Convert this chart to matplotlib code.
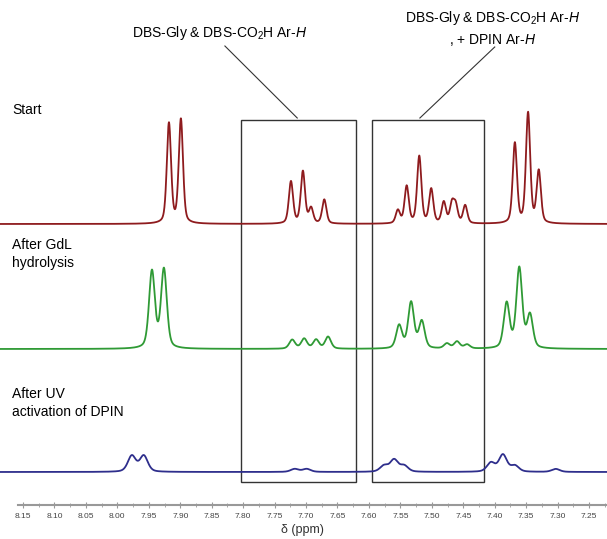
import numpy as np
import matplotlib
matplotlib.use("Agg")
import matplotlib.pyplot as plt
from matplotlib.patches import Rectangle

plt.rcParams['font.family'] = ['Liberation Sans', 'DejaVu Sans']
plt.rcParams['mathtext.fontset'] = 'custom'
plt.rcParams['mathtext.rm'] = 'Liberation Sans'
plt.rcParams['mathtext.it'] = 'Liberation Sans:italic'

# peak lists: shift (ppm), height (arb. units)
start_shift = [7.918, 7.899, 7.724, 7.705, 7.692, 7.671,
               7.554, 7.540, 7.520, 7.501, 7.481, 7.468, 7.462, 7.447,
               7.368, 7.347, 7.330]
start_height = [100, 104, 42, 52, 15, 24,
                13, 37, 67, 34, 21, 19, 17, 18,
                80, 110, 52]

gdl_shift = [7.945, 7.926, 7.722, 7.703, 7.684, 7.665,
             7.552, 7.533, 7.516, 7.476, 7.460, 7.444,
             7.381, 7.361, 7.344]
gdl_height = [77, 79, 9, 10, 9, 12,
              23, 46, 27, 5, 7, 4,
              45, 80, 33]

uv_shift = [7.977, 7.958, 7.718, 7.699, 7.576, 7.560, 7.544,
            7.406, 7.387, 7.368, 7.303]
uv_height = [16, 16, 3, 3, 6, 12, 6, 9, 17, 6, 3]

# vertical offsets of the stacked spectra and line widths (ppm)
offsets = [315, 190, 67]
widths = [0.0080, 0.0110, 0.0150]
colors = ['#8e1b1e', '#2f9a35', '#2e2e8c']

labels_left = ['Start', 'After GdL\nhydrolysis', 'After UV\nactivation of DPIN']

tick_values = [8.15, 8.10, 8.05, 8.00, 7.95, 7.90, 7.85, 7.80, 7.75, 7.70,
               7.65, 7.60, 7.55, 7.50, 7.45, 7.40, 7.35, 7.30, 7.25]

boxes = [(7.803, 7.621), (7.595, 7.417)]


def spectrum(x, shifts, heights, w):
    y = np.zeros_like(x)
    hw = w / 2
    for s, h in zip(shifts, heights):
        lor = hw**2 / ((x - s)**2 + hw**2)
        gau = np.exp(-np.log(2) * ((x - s) / hw)**2)
        y += h * (0.4 * lor + 0.6 * gau)
    return y


fig = plt.figure(figsize=(6.07, 5.39), dpi=100)
ax = fig.add_axes([0, 0, 1, 1])
x_left, x_right = 8.1866, 7.2215
ax.set_xlim(x_left, x_right)
ax.set_ylim(0, 539)

x = np.linspace(x_left, x_right, 4000)
series = [(start_shift, start_height), (gdl_shift, gdl_height), (uv_shift, uv_height)]
for (sh, ht), off, w, c in zip(series, offsets, widths, colors):
    ax.plot(x, off + spectrum(x, sh, ht, w), color=c, lw=1.3)

# boxes around the aromatic regions
for a, b in boxes:
    ax.add_patch(Rectangle((a, 57), b - a, 362, fill=False, ec='#333333', lw=1.0))

# annotations
ax.plot([7.829, 7.714], [493, 421], color='#333333', lw=0.8)
ax.plot([7.400, 7.519], [492, 421], color='#333333', lw=0.8)
ax.text(7.837, 506, 'DBS-Gly & DBS-CO$_2$H Ar-$H$', ha='center', va='center', fontsize=10)
ax.text(7.404, 521, 'DBS-Gly & DBS-CO$_2$H Ar-$H$', ha='center', va='center', fontsize=10)
ax.text(7.404, 499, ', + DPIN Ar-$H$', ha='center', va='center', fontsize=10)

# left labels
label_y = [429, 285, 136]
for lab, yy in zip(labels_left, label_y):
    ax.text(8.1675, yy, lab, ha='left', va='center', fontsize=10, linespacing=1.37)

# x axis
for s in ['top', 'right', 'left']:
    ax.spines[s].set_visible(False)
ax.spines['bottom'].set_position(('data', 34))
ax.spines['bottom'].set_bounds(8.158, x_right)
ax.spines['bottom'].set_color('#999999')
ax.spines['bottom'].set_linewidth(1.5)
ax.set_yticks([])
ax.set_xticks(tick_values)
ax.set_xticklabels(['%.2f' % v for v in tick_values])
ax.set_xticks(np.arange(8.125, 7.22, -0.05), minor=True)
ax.tick_params(axis='x', which='major', direction='inout', length=5, width=0.8,
               color='#999999', labelsize=6, labelcolor='#444444', pad=3)
ax.tick_params(axis='x', which='minor', direction='inout', length=3, width=0.6, color='#999999')
ax.text(7.705, 9, 'δ (ppm)', ha='center', va='center', fontsize=9, color='#333333')

fig.savefig('out.png', dpi=100)
